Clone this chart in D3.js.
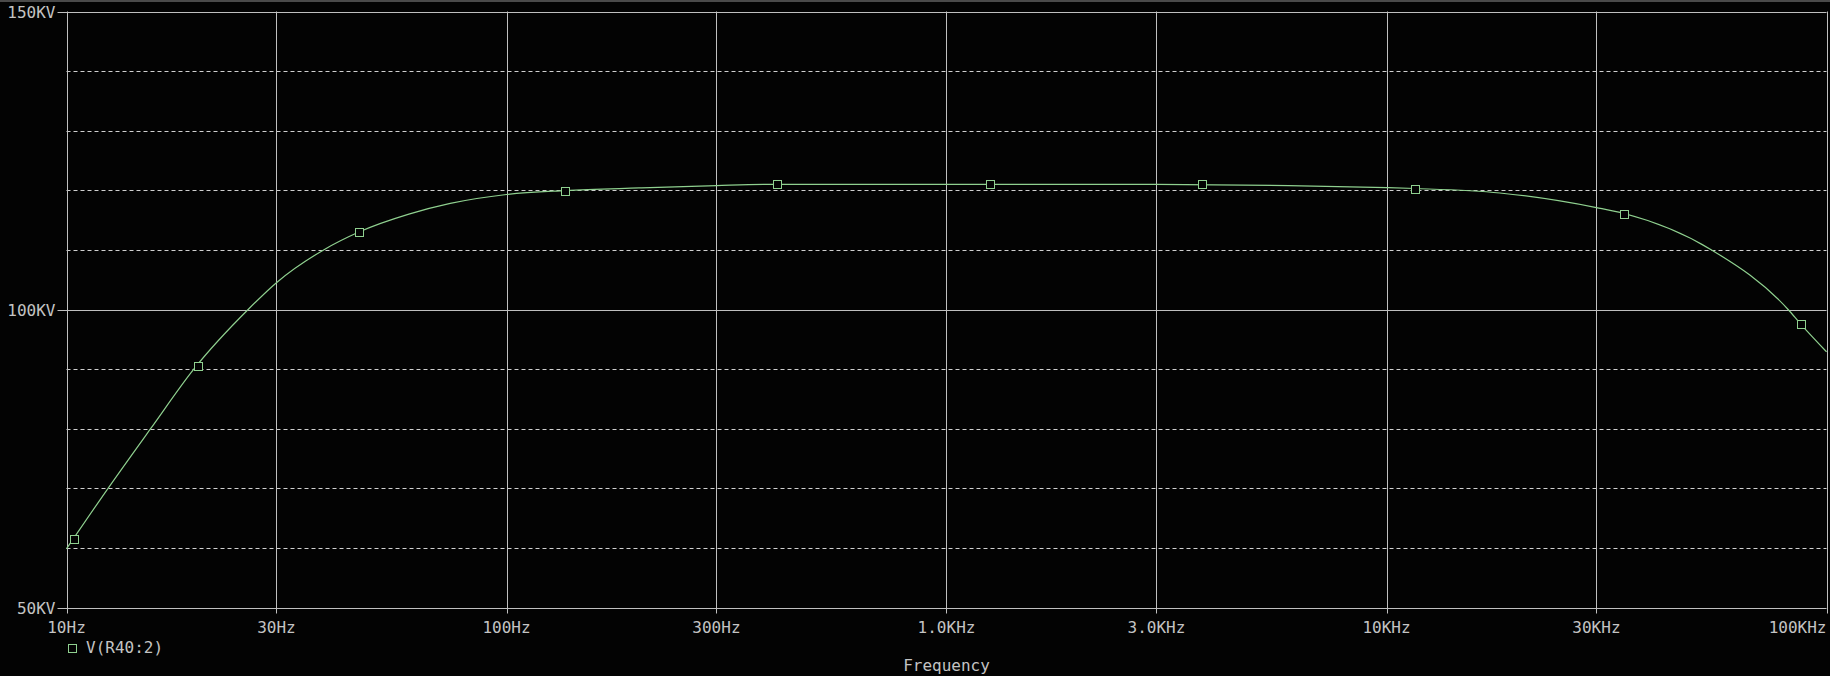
<!DOCTYPE html>
<html>
<head>
<meta charset="utf-8">
<script src="https://cdn.jsdelivr.net/npm/d3@7"></script>
<style>
  html, body { margin: 0; padding: 0; background: #030303; }
  svg { display: block; }
  text { font-family: "DejaVu Sans Mono", "Liberation Mono", monospace; font-size: 16px; fill: #c4c4c4; }
</style>
</head>
<body>
<svg id="chart" width="1830" height="676"></svg>
<script>
// ---- data ----
const freqs = [10, 12.43, 15.53, 19.47, 25.87, 30, 38.4, 46.2, 60, 74.5, 100, 136, 200, 300, 412, 1000, 3000, 6000, 10000, 11600, 18100, 30000, 34700, 54800, 81800, 87500, 100000];
const volts = [59.85, 70, 80, 90, 100, 104.5, 110, 113.0, 116.0, 117.8, 119.3, 119.95, 120.4, 120.8, 121, 121, 121, 120.8, 120.45, 120.3, 119.55, 117.1, 116.1, 110, 100, 97.5, 92.9];
const markerFreqs = [10.4, 19.9, 46.2, 136, 412, 1257, 3810, 11600, 34700, 87500];
const markerVolts = [61.5, 90.6, 113.0, 119.95, 121, 121, 121, 120.3, 116.1, 97.5];
const xTickValues = [10, 30, 100, 300, 1000, 3000, 10000, 30000, 100000];
const xTickLabels = ["10Hz", "30Hz", "100Hz", "300Hz", "1.0KHz", "3.0KHz", "10KHz", "30KHz", "100KHz"];
const yMajorValues = [50, 100, 150];
const yMajorLabels = ["50KV", "100KV", "150KV"];
const yMinorValues = [60, 70, 80, 90, 110, 120, 130, 140];
const seriesName = "V(R40:2)";
const xTitle = "Frequency";

// ---- layout ----
const L = 66.5, R = 1826.5, T = 11.5, B = 607.5;
const gridColor = "#c0c0c0", curveColor = "#8fd08f";

const svg = d3.select("#chart");
svg.append("rect").attr("width", 1830).attr("height", 676).attr("fill", "#030303");
svg.append("line").attr("x1", 0).attr("x2", 1830).attr("y1", 1).attr("y2", 1)
   .attr("stroke", "#4a4a4a").attr("stroke-width", 2);

const x = d3.scaleLog().domain([10, 100000]).range([L, R]);
const y = d3.scaleLinear().domain([50, 150]).range([B, T]);

// dashed minor horizontal grid
svg.append("g").selectAll("line").data(yMinorValues).join("line")
  .attr("x1", L).attr("x2", R)
  .attr("y1", d => Math.round(y(d)) + 0.5).attr("y2", d => Math.round(y(d)) + 0.5)
  .attr("stroke", "#d0d0d0").attr("stroke-width", 1).attr("stroke-dasharray", "4,3");

// solid major horizontal grid + ticks
svg.append("g").selectAll("line").data(yMajorValues).join("line")
  .attr("x1", L - 9).attr("x2", R)
  .attr("y1", d => Math.round(y(d)) + 0.5).attr("y2", d => Math.round(y(d)) + 0.5)
  .attr("stroke", gridColor).attr("stroke-width", 1);

// vertical grid + ticks
svg.append("g").selectAll("line").data(xTickValues).join("line")
  .attr("x1", d => Math.round(x(d)) + 0.5).attr("x2", d => Math.round(x(d)) + 0.5)
  .attr("y1", T).attr("y2", B + 6)
  .attr("stroke", gridColor).attr("stroke-width", 1);

// y labels
svg.append("g").selectAll("text").data(yMajorValues).join("text")
  .attr("x", L - 11).attr("y", d => y(d) + 6)
  .attr("text-anchor", "end")
  .text((d, i) => yMajorLabels[i]);

// x labels
svg.append("g").selectAll("text").data(xTickValues).join("text")
  .attr("x", (d, i) => i === xTickValues.length - 1 ? R : x(d))
  .attr("y", 633)
  .attr("text-anchor", (d, i) => i === xTickValues.length - 1 ? "end" : "middle")
  .text((d, i) => xTickLabels[i]);

// axis title
svg.append("text").attr("x", (L + R) / 2).attr("y", 671)
  .attr("text-anchor", "middle").text(xTitle);

// curve
const pts = freqs.map((f, i) => [f, volts[i]]);
svg.append("path").datum(pts)
  .attr("fill", "none").attr("stroke", curveColor).attr("stroke-width", 1.2)
  .attr("d", d3.line().x(d => x(d[0])).y(d => y(d[1])).curve(d3.curveMonotoneX));

// markers
const mk = markerFreqs.map((f, i) => [f, markerVolts[i]]);
svg.append("g").selectAll("rect").data(mk).join("rect")
  .attr("x", d => Math.round(x(d[0])) - 4 + 0.5).attr("y", d => Math.round(y(d[1])) - 4 + 0.5)
  .attr("width", 8).attr("height", 8)
  .attr("fill", "#030303").attr("stroke", curveColor).attr("stroke-width", 1);

// legend
svg.append("rect").attr("x", 68.5).attr("y", 644.5).attr("width", 8).attr("height", 8)
  .attr("fill", "none").attr("stroke", curveColor).attr("stroke-width", 1);
svg.append("text").attr("x", 86).attr("y", 653).text(seriesName);
</script>
</body>
</html>
